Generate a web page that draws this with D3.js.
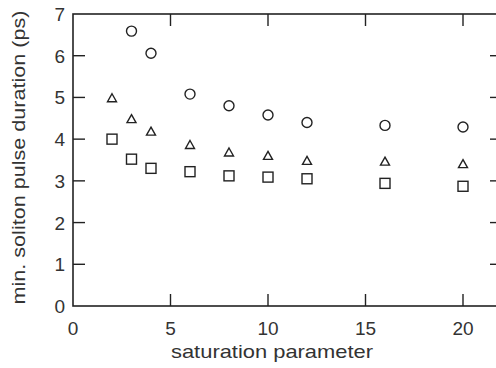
<!DOCTYPE html>
<html>
<head>
<meta charset="utf-8">
<script src="https://cdn.jsdelivr.net/npm/d3@7"></script>
<style>
  body { margin: 0; background: #fff; }
  svg { display: block; font-family: "Liberation Sans", Arial, sans-serif; }
  .tick-label { font-size: 19px; fill: #333; }
  .axis-title { font-size: 19px; fill: #333; }
</style>
</head>
<body>
<svg id="chart" width="496" height="368"></svg>
<script>
const satParam = [2, 3, 4, 6, 8, 10, 12, 16, 20];
const circleVals = [null, 6.59, 6.06, 5.08, 4.80, 4.58, 4.40, 4.33, 4.29];
const triangleVals = [4.98, 4.48, 4.18, 3.86, 3.68, 3.60, 3.48, 3.46, 3.40];
const squareVals = [4.0, 3.52, 3.30, 3.22, 3.12, 3.09, 3.05, 2.94, 2.87];
const xTicks = [0, 5, 10, 15, 20];
const yTicks = [0, 1, 2, 3, 4, 5, 6, 7];

const svg = d3.select('#chart');

const x = d3.scaleLinear().domain([0, 22]).range([73, 73 + 22 * 19.5]);
const y = d3.scaleLinear().domain([0, 7]).range([306, 14]);

const ink = '#222';
const tickLen = 12;
const g = svg.append('g');

// frame (right side falls just outside the window)
g.append('rect')
  .attr('x', x(0)).attr('y', y(7))
  .attr('width', x(22) - x(0)).attr('height', y(0) - y(7))
  .attr('fill', 'none').attr('stroke', ink).attr('stroke-width', 1.6);

// x ticks (bottom + top, inward)
xTicks.forEach(t => {
  if (t > 0) {
    g.append('line').attr('x1', x(t)).attr('x2', x(t))
      .attr('y1', y(0)).attr('y2', y(0) - tickLen)
      .attr('stroke', ink).attr('stroke-width', 1.4);
    g.append('line').attr('x1', x(t)).attr('x2', x(t))
      .attr('y1', y(7)).attr('y2', y(7) + tickLen)
      .attr('stroke', ink).attr('stroke-width', 1.4);
  }
  g.append('text').attr('class', 'tick-label')
    .attr('x', x(t)).attr('y', y(0) + 29)
    .attr('text-anchor', 'middle').text(t);
});

// y ticks (left + right, inward)
yTicks.forEach(t => {
  if (t > 0 && t < 7) {
    g.append('line').attr('x1', x(0)).attr('x2', x(0) + tickLen)
      .attr('y1', y(t)).attr('y2', y(t))
      .attr('stroke', ink).attr('stroke-width', 1.4);
    g.append('line').attr('x1', x(22)).attr('x2', x(22) - tickLen)
      .attr('y1', y(t)).attr('y2', y(t))
      .attr('stroke', ink).attr('stroke-width', 1.4);
  }
  g.append('text').attr('class', 'tick-label')
    .attr('x', x(0) - 8).attr('y', y(t) + 7)
    .attr('text-anchor', 'end').text(t);
});

// axis titles -- the original lettering runs a bit wider than Liberation Sans
g.append('text').attr('class', 'axis-title')
  .attr('x', 272).attr('y', 358)
  .attr('text-anchor', 'middle')
  .attr('textLength', 202).attr('lengthAdjust', 'spacingAndGlyphs')
  .text('saturation parameter');

g.append('text').attr('class', 'axis-title')
  .attr('transform', 'translate(25, 157.5) rotate(-90)')
  .attr('text-anchor', 'middle')
  .attr('textLength', 294).attr('lengthAdjust', 'spacingAndGlyphs')
  .text('min. soliton pulse duration (ps)');

// markers
const pts = (vals) => satParam.map((s, i) => ({ s, v: vals[i] })).filter(d => d.v != null);
const marks = g.append('g').attr('fill', 'none').attr('stroke', ink).attr('stroke-width', 1.4);

marks.selectAll('circle.m').data(pts(circleVals)).join('circle')
  .attr('class', 'm')
  .attr('cx', d => x(d.s)).attr('cy', d => y(d.v)).attr('r', 5);

marks.selectAll('rect.m').data(pts(squareVals)).join('rect')
  .attr('class', 'm')
  .attr('x', d => x(d.s) - 5).attr('y', d => y(d.v) - 5)
  .attr('width', 10).attr('height', 10);

marks.selectAll('path.m').data(pts(triangleVals)).join('path')
  .attr('class', 'm')
  .attr('d', d => {
    const cx = x(d.s), cy = y(d.v);
    return `M ${cx} ${cy - 4.5} L ${cx + 4.5} ${cy + 3.5} L ${cx - 4.5} ${cy + 3.5} Z`;
  });
</script>
</body>
</html>
